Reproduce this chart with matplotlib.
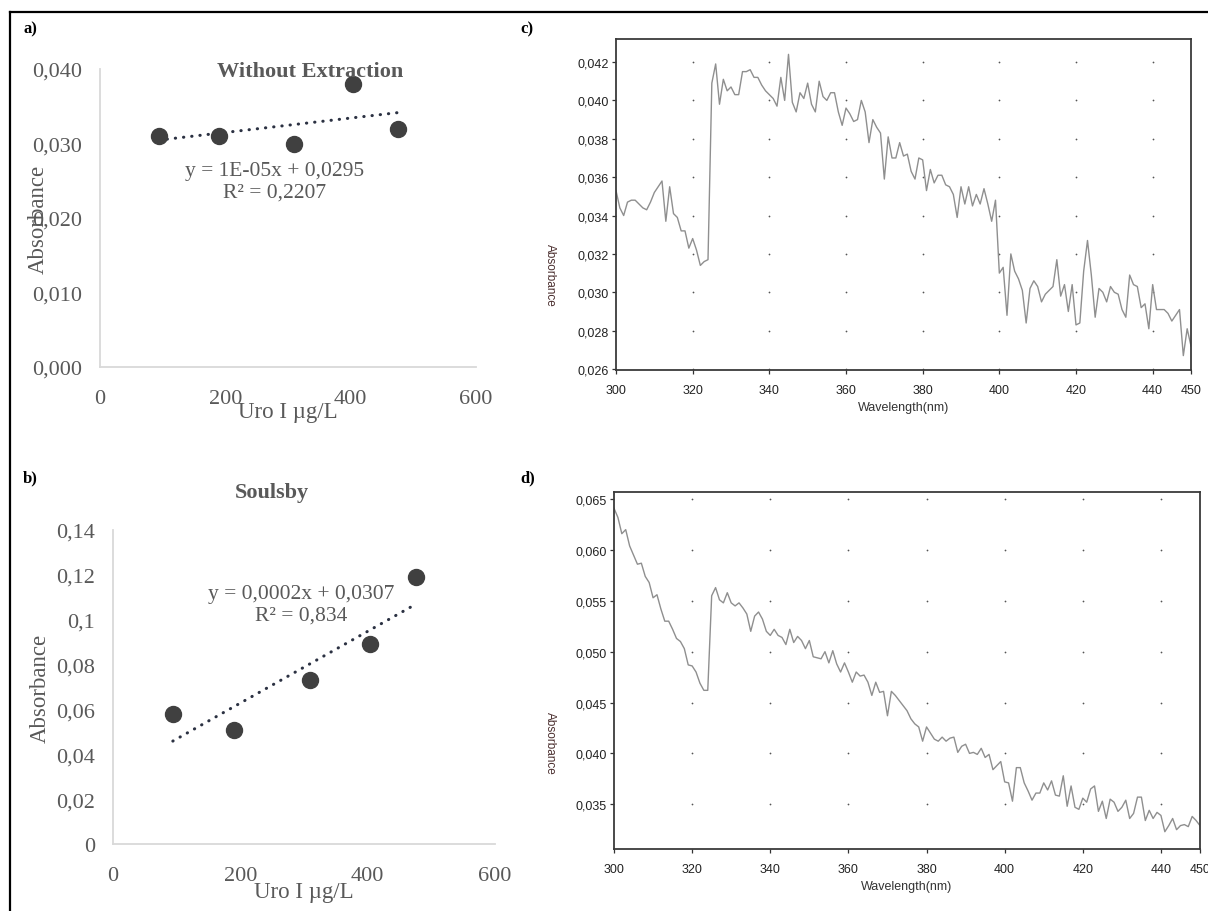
import matplotlib
matplotlib.use("Agg")
import matplotlib.pyplot as plt
import numpy as np
from matplotlib.lines import Line2D

# --- calibration data (Uro I standards) ---------------------------------
uro_conc = [94, 190, 310, 404, 476]
abs_without = [0.031, 0.031, 0.030, 0.038, 0.032]
abs_soulsby = [0.058, 0.051, 0.073, 0.089, 0.119]

eq_without = ["y = 1E-05x + 0,0295", "R² = 0,2207"]
eq_soulsby = ["y = 0,0002x + 0,0307", "R² = 0,834"]

# --- UV-Vis spectra, 1 nm steps from 300 to 450 nm -----------------------
wavelength = np.arange(300, 451)
spec_c = [
    0.0353, 0.0344, 0.0340, 0.0347, 0.0348, 0.0348, 0.0346, 0.0344, 0.0343, 0.0347,
    0.0352, 0.0355, 0.0358, 0.0337, 0.0355, 0.0341, 0.0339, 0.0332, 0.0332, 0.0323,
    0.0328, 0.0322, 0.0314, 0.0316, 0.0317, 0.0409, 0.0419, 0.0398, 0.0411, 0.0405,
    0.0407, 0.0403, 0.0403, 0.0415, 0.0415, 0.0416, 0.0412, 0.0412, 0.0408, 0.0405,
    0.0403, 0.0401, 0.0397, 0.0412, 0.0400, 0.0424, 0.0399, 0.0394, 0.0404, 0.0401,
    0.0409, 0.0398, 0.0394, 0.0410, 0.0402, 0.0400, 0.0404, 0.0404, 0.0394, 0.0387,
    0.0396, 0.0393, 0.0389, 0.0390, 0.0400, 0.0394, 0.0378, 0.0390, 0.0386, 0.0383,
    0.0359, 0.0381, 0.0370, 0.0370, 0.0378, 0.0371, 0.0372, 0.0363, 0.0359, 0.0370,
    0.0369, 0.0353, 0.0364, 0.0357, 0.0361, 0.0361, 0.0356, 0.0355, 0.0351, 0.0339,
    0.0355, 0.0346, 0.0355, 0.0345, 0.0351, 0.0346, 0.0354, 0.0346, 0.0337, 0.0348,
    0.0310, 0.0313, 0.0288, 0.0320, 0.0311, 0.0307, 0.0301, 0.0284, 0.0302, 0.0306,
    0.0303, 0.0295, 0.0299, 0.0301, 0.0303, 0.0317, 0.0298, 0.0304, 0.0290, 0.0304,
    0.0283, 0.0284, 0.0311, 0.0327, 0.0309, 0.0287, 0.0302, 0.0300, 0.0295, 0.0303,
    0.0300, 0.0299, 0.0291, 0.0287, 0.0309, 0.0304, 0.0303, 0.0292, 0.0294, 0.0281,
    0.0304, 0.0291, 0.0291, 0.0291, 0.0289, 0.0285, 0.0288, 0.0291, 0.0267, 0.0281, 0.0272,
]
spec_d = [
    0.0641, 0.0632, 0.0616, 0.0620, 0.0604, 0.0595, 0.0586, 0.0587, 0.0574, 0.0568,
    0.0553, 0.0556, 0.0542, 0.0530, 0.0530, 0.0522, 0.0513, 0.0510, 0.0503, 0.0487,
    0.0486, 0.0480, 0.0469, 0.0462, 0.0462, 0.0555, 0.0563, 0.0551, 0.0548, 0.0558,
    0.0548, 0.0545, 0.0548, 0.0543, 0.0537, 0.0520, 0.0535, 0.0539, 0.0532, 0.0520,
    0.0516, 0.0522, 0.0516, 0.0514, 0.0507, 0.0522, 0.0509, 0.0515, 0.0511, 0.0503,
    0.0511, 0.0495, 0.0494, 0.0493, 0.0500, 0.0489, 0.0501, 0.0488, 0.0480, 0.0489,
    0.0480, 0.0470, 0.0480, 0.0476, 0.0477, 0.0470, 0.0457, 0.0470, 0.0460, 0.0461,
    0.0437, 0.0461, 0.0457, 0.0452, 0.0447, 0.0442, 0.0434, 0.0429, 0.0426, 0.0412,
    0.0426, 0.0420, 0.0414, 0.0412, 0.0416, 0.0412, 0.0415, 0.0416, 0.0401, 0.0407,
    0.0409, 0.0400, 0.0401, 0.0399, 0.0405, 0.0396, 0.0399, 0.0384, 0.0388, 0.0392,
    0.0372, 0.0371, 0.0353, 0.0386, 0.0386, 0.0371, 0.0363, 0.0354, 0.0361, 0.0361,
    0.0371, 0.0364, 0.0373, 0.0359, 0.0358, 0.0378, 0.0348, 0.0368, 0.0347, 0.0345,
    0.0356, 0.0352, 0.0365, 0.0368, 0.0343, 0.0353, 0.0336, 0.0355, 0.0352, 0.0343,
    0.0347, 0.0354, 0.0336, 0.0341, 0.0357, 0.0357, 0.0334, 0.0344, 0.0336, 0.0342,
    0.0339, 0.0323, 0.0329, 0.0336, 0.0325, 0.0329, 0.0330, 0.0328, 0.0338, 0.0334, 0.0329,
]

W, H = 1208, 912
GRAY_TXT = "#595959"
SERIF = ["Liberation Serif", "DejaVu Serif"]
SANS = ["Liberation Sans", "DejaVu Sans"]


def px_axes(fig, left, top, right, bottom):
    """Add axes placed by pixel edges (origin at top-left)."""
    return fig.add_axes([left / W, 1 - bottom / H, (right - left) / W, (bottom - top) / H])


def calib_panel(ax, y, title, eq, ymax, yticks, yfmt, title_xy, eq_xy, ylab_x, xlab_y):
    ax.set_xlim(0, 600)
    ax.set_ylim(0, ymax)
    for s in ("top", "right"):
        ax.spines[s].set_visible(False)
    for s in ("left", "bottom"):
        ax.spines[s].set_color("#d9d9d9")
        ax.spines[s].set_linewidth(1.3)
    ax.set_xticks([0, 200, 400, 600])
    ax.set_yticks(yticks)
    ax.set_yticklabels([yfmt(v) for v in yticks])
    ax.tick_params(length=0, labelsize=16, labelcolor=GRAY_TXT, pad=16)
    ax.tick_params(axis="y", pad=13)
    for lab in ax.get_xticklabels() + ax.get_yticklabels():
        lab.set_family(SERIF)
    ax.patch.set_alpha(0)

    # linear trendline over the data range
    slope, icpt = np.polyfit(uro_conc, y, 1)
    xs = np.array([min(uro_conc), max(uro_conc)])
    ax.plot(xs, slope * xs + icpt, color="#2b3142", lw=2.2,
            linestyle=(0, (0.1, 2.6)), dash_capstyle="round", zorder=2)
    ax.plot(uro_conc, y, "o", ms=11.5, color="#404040", zorder=3)

    fig.text(title_xy[0] / W, 1 - title_xy[1] / H, title, ha="center", va="center",
             fontsize=16, fontweight="bold", color=GRAY_TXT, family=SERIF)
    fig.text(eq_xy[0] / W, 1 - eq_xy[1] / H, eq[0] + "\n" + eq[1], ha="center", va="center",
             fontsize=15.5, color=GRAY_TXT, family=SERIF, linespacing=1.15)
    ax.text(ylab_x, 0.5, "Absorbance", transform=ax.transAxes, rotation=90,
            ha="center", va="center", fontsize=16.5, color=GRAY_TXT, family=SERIF)
    ax.text(0.5, xlab_y, "Uro I µg/L", transform=ax.transAxes,
            ha="center", va="center", fontsize=16.5, color=GRAY_TXT, family=SERIF)


def spectrum_panel(ax, y, ylim, yticks, yfmt, ylab_xy):
    ax.plot(wavelength, y, color="#8f8f8f", lw=1.0)
    ax.set_xlim(300, 450)
    ax.set_ylim(*ylim)
    xt = [300, 320, 340, 360, 380, 400, 420, 440, 450]
    ax.set_xticks(xt)
    ax.set_yticks(yticks)
    ax.set_yticklabels([yfmt(v) for v in yticks])
    ax.tick_params(length=3, width=0.9, color="#333333", labelsize=9,
                   labelcolor="#222222", pad=2)
    ax.tick_params(axis="x", pad=7)
    for lab in ax.get_xticklabels() + ax.get_yticklabels():
        lab.set_family(SANS)
    for s in ax.spines.values():
        s.set_color("#3a3a3a")
        s.set_linewidth(1.3)
    # dotted grid: a dot at each inner tick intersection
    gx, gy = np.meshgrid(xt[1:-1], [v for v in yticks if v > ylim[0] + 1e-9])
    ax.scatter(gx.ravel(), gy.ravel(), s=1.6, color="#555555", lw=0, zorder=1)
    ax.text(ylab_xy[0], ylab_xy[1], "Absorbance", transform=ax.transAxes, rotation=270,
            ha="center", va="center", fontsize=8.5, color="#4a2e2e", family=SANS)
    ax.set_xlabel("Wavelength(nm)", fontsize=9, color="#333333", family=SANS, labelpad=4)


fig = plt.figure(figsize=(W / 100, H / 100), dpi=100)

# outer frame (top and left edges)
fig.add_artist(Line2D([10 / W, 1], [1 - 13 / H, 1 - 13 / H], color="black", lw=1.6))
fig.add_artist(Line2D([10 / W, 10 / W], [0, 1 - 13 / H], color="black", lw=1.6))

for lab, x, y in [("a)", 23, 29), ("b)", 23, 478), ("c)", 520, 29), ("d)", 520, 478)]:
    fig.text(x / W, 1 - y / H, lab, ha="left", va="center", fontsize=12,
             fontweight="bold", family=SERIF)

comma3 = lambda v: f"{v:.3f}".replace(".", ",")


def comma_short(v):
    if v == 0:
        return "0"
    s = f"{v:.2f}".rstrip("0") if round(v, 2) == round(v, 1) else f"{v:.2f}"
    return s.replace(".", ",")


ax_a = px_axes(fig, 100, 70, 476, 368)
calib_panel(ax_a, abs_without, "Without Extraction", eq_without, 0.040,
            [0, 0.010, 0.020, 0.030, 0.040], comma3,
            title_xy=(310, 72), eq_xy=(275, 182), ylab_x=-0.165, xlab_y=-0.15)

ax_b = px_axes(fig, 113, 531, 495, 845)
calib_panel(ax_b, abs_soulsby, "Soulsby", eq_soulsby, 0.14,
            [0, 0.02, 0.04, 0.06, 0.08, 0.1, 0.12, 0.14], comma_short,
            title_xy=(272, 493), eq_xy=(301, 605), ylab_x=-0.19, xlab_y=-0.15)

ax_c = px_axes(fig, 616, 40, 1191, 371)
spectrum_panel(ax_c, spec_c, (0.02595, 0.0432),
               [0.026, 0.028, 0.030, 0.032, 0.034, 0.036, 0.038, 0.040, 0.042],
               comma3, ylab_xy=(-0.115, 0.29))

ax_d = px_axes(fig, 614, 493, 1200, 850)
spectrum_panel(ax_d, spec_d, (0.0306, 0.0657),
               [0.035, 0.040, 0.045, 0.050, 0.055, 0.060, 0.065],
               comma3, ylab_xy=(-0.11, 0.30))

fig.savefig("out.png", dpi=100)
